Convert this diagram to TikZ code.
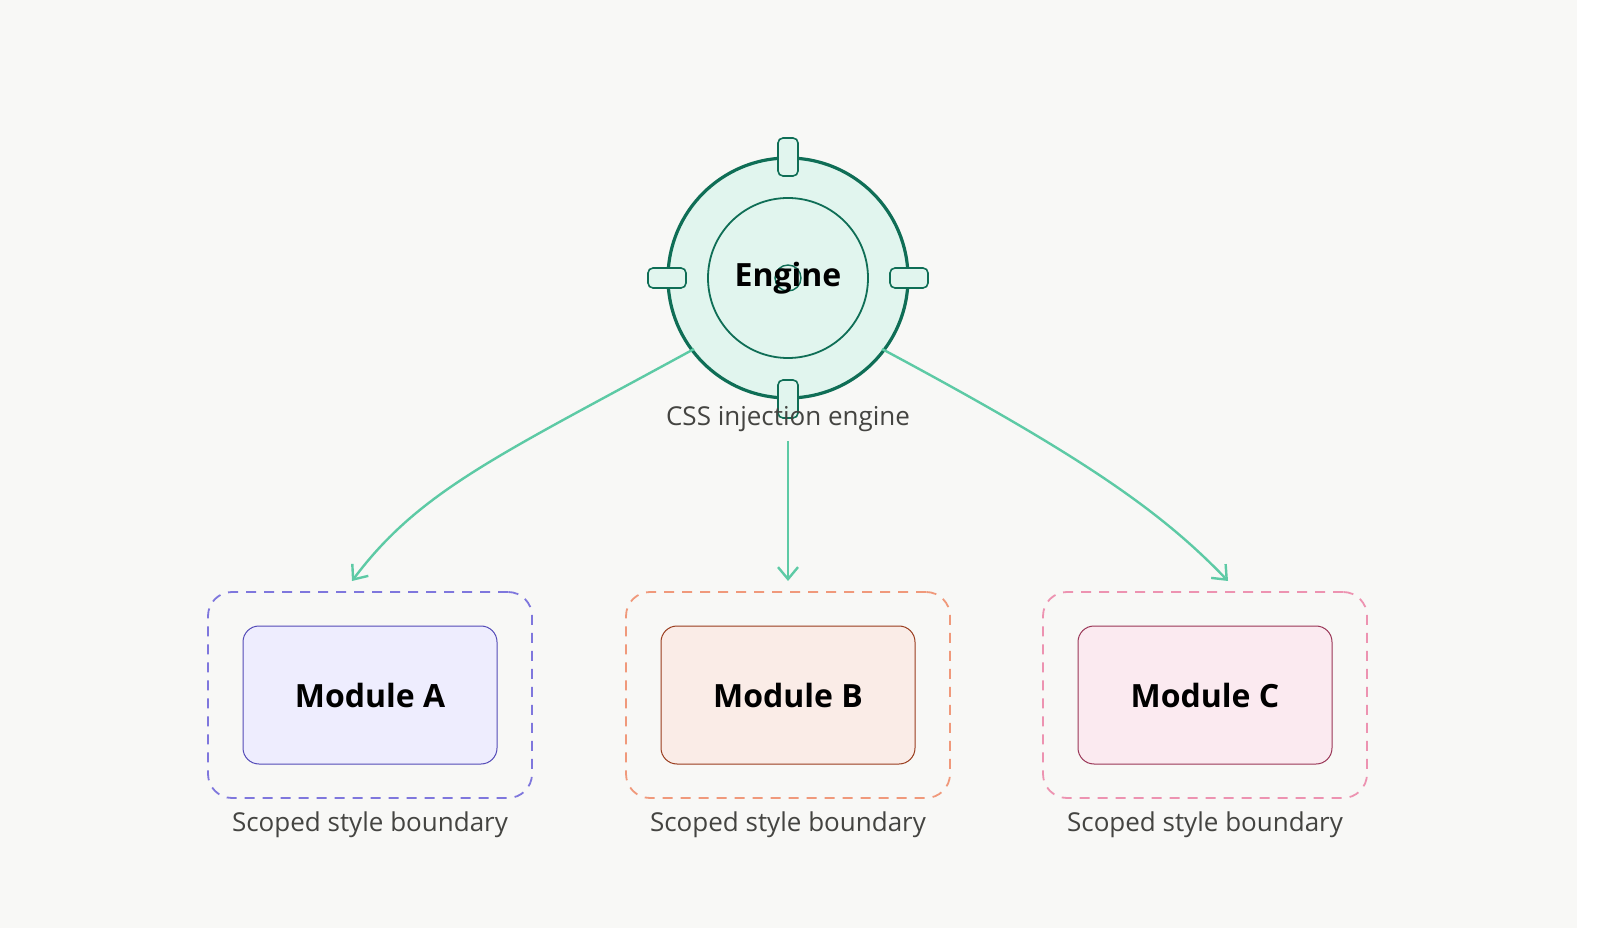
\documentclass[tikz,border=0pt]{standalone}
\usepackage{fontspec}
\setmainfont{Open Sans}
\usetikzlibrary{arrows.meta}
\definecolor{bgc}{HTML}{F8F8F6}
\definecolor{eng}{HTML}{0F6E56}
\definecolor{engfill}{HTML}{E1F5EE}
\definecolor{flow}{HTML}{5DCAA5}
\definecolor{txt}{HTML}{444441}
\definecolor{dashA}{HTML}{7F77DD}
\definecolor{dashB}{HTML}{F0997B}
\definecolor{dashC}{HTML}{ED93B1}
\definecolor{lineA}{HTML}{534AB7}
\definecolor{lineB}{HTML}{993C1D}
\definecolor{lineC}{HTML}{993556}
\definecolor{fillA}{HTML}{EEEDFE}
\definecolor{fillB}{HTML}{FAECE7}
\definecolor{fillC}{HTML}{FBEAF0}
\tikzset{
  boundary/.style={draw=#1,dash pattern={on 5pt off 4pt},line width=0.9pt,rounded corners=12pt,minimum width=162pt,minimum height=103pt},
  module/.style args={#1/#2}{draw=#1,fill=#2,line width=0.5pt,rounded corners=8pt,minimum width=127pt,minimum height=69pt,font=\fontsize{16}{18}\selectfont\bfseries},
  caption/.style={text=txt,font=\fontsize{13}{15}\selectfont},
  tab/.style={draw=eng,fill=engfill,line width=0.8pt,rounded corners=2.5pt},
  flowarrow/.style={draw=flow,line width=1.2pt,-{Straight Barb[length=6pt,width=10pt]}}
}
\begin{document}
\begin{tikzpicture}[x=0.5pt,y=0.5pt,yscale=-1]
\useasboundingbox (0,0) rectangle (1600,951);
\fill[white] (0,0) rectangle (1600,951);
\fill[bgc] (0,0) rectangle (1577,928);

%Shape: Engine
\draw[eng,fill=engfill,line width=1.6pt] (788,278) circle (120);
\draw[eng,line width=0.9pt] (788,278) circle (80);
\draw[eng,line width=0.7pt] (788,278) circle (13);
\draw[tab] (778,138) rectangle (798,176);
\draw[tab] (778,380) rectangle (798,418);
\draw[tab] (648,268) rectangle (686,288);
\draw[tab] (890,268) rectangle (928,288);
\node[font=\fontsize{16}{18}\selectfont\bfseries] (engine) at (788,278) {Engine};
\node[caption] (enginelabel) at (788,419) {CSS injection engine};
\coordinate (engleft) at (694,349);
\coordinate (engright) at (882,349);
\coordinate (engdown) at (788,441);

% Modules
\node[boundary=dashA] (scopeA) at (370,695) {};
\node[boundary=dashB] (scopeB) at (788,695) {};
\node[boundary=dashC] (scopeC) at (1205,695) {};
\node[module=lineA/fillA] (modA) at (370,695) {Module A};
\node[module=lineB/fillB] (modB) at (788,695) {Module B};
\node[module=lineC/fillC] (modC) at (1205,695) {Module C};
\node[caption] (capA) at (370,825) {Scoped style boundary};
\node[caption] (capB) at (788,825) {Scoped style boundary};
\node[caption] (capC) at (1205,825) {Scoped style boundary};

% Arrows
\coordinate (tipA) at (352,581);
\coordinate (tipC) at (1228,581);
\draw[flowarrow] (engleft) .. controls (500,455) and (420,490) .. (tipA);
\draw[flowarrow] (engdown) -- (788,581);
\draw[flowarrow] (engright) .. controls (1080,455) and (1160,510) .. (tipC);
\end{tikzpicture}
\end{document}
